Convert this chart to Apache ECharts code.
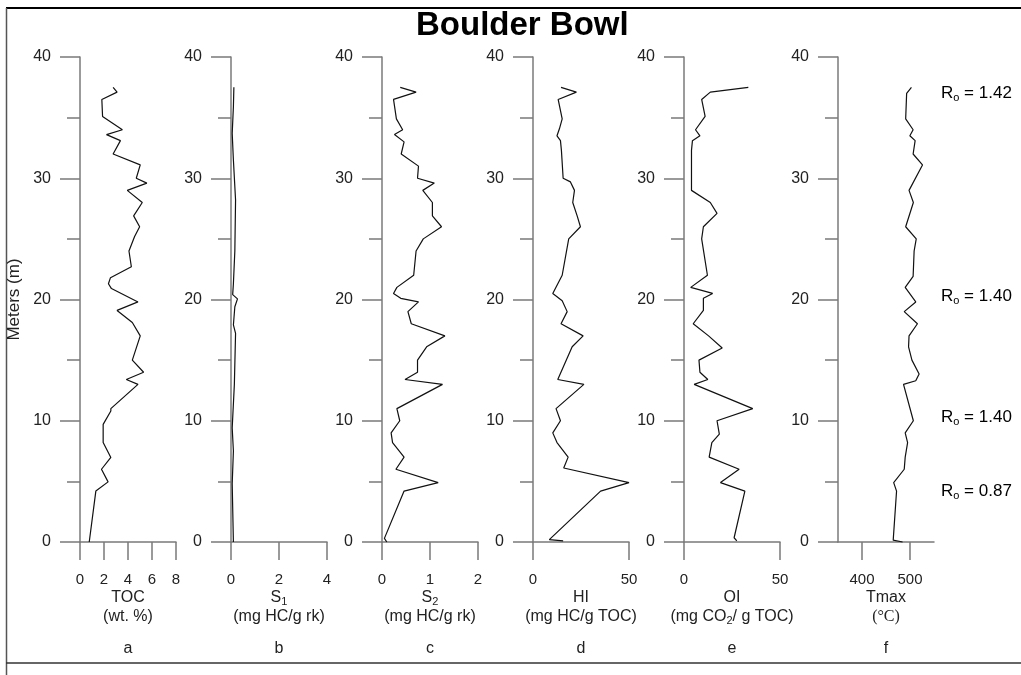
<!DOCTYPE html>
<html><head><meta charset="utf-8">
<script src="https://cdn.jsdelivr.net/npm/echarts@6/dist/echarts.min.js"></script>
<style>html,body{margin:0;padding:0;background:#fff}#c{width:1021px;height:675px}</style>
</head><body><div id="c"></div>
<script>
const titleText = 'Boulder Bowl';
// ---- data (depth in meters, value) ----
const tocDepth = [0, 4.2, 4.96, 6.0, 6.97, 8.2, 9.7, 10.8, 11.0, 13.0, 13.4, 14.0, 15.0, 17.0, 18.1, 19.1, 19.8, 20.9, 21.3, 21.8, 22.7, 24.0, 25.2, 26.0, 26.9, 28.0, 29.0, 29.6, 30.0, 31.1, 32.0, 33.1, 33.6, 34.0, 35.1, 36.5, 37.1, 37.5];
const tocValue = [0.77, 1.32, 2.34, 1.79, 2.57, 1.93, 1.93, 2.57, 2.57, 4.83, 3.86, 5.30, 4.36, 5.02, 4.36, 3.09, 4.83, 2.62, 2.37, 2.54, 4.28, 4.08, 4.55, 4.97, 4.47, 5.19, 3.94, 5.57, 4.69, 5.02, 2.76, 3.37, 2.21, 3.53, 1.88, 1.82, 3.09, 2.76];

const s1Depth = [0, 4.8, 7.5, 9.4, 13.0, 17.2, 17.9, 19.4, 20.05, 20.4, 21.3, 24.0, 28.2, 31.5, 33.7, 35.9, 37.5];
const s1Value = [0.10, 0.05, 0.10, 0.05, 0.14, 0.19, 0.10, 0.16, 0.27, 0.07, 0.10, 0.16, 0.19, 0.10, 0.05, 0.10, 0.12];

const s2Depth = [0, 0.3, 4.2, 4.9, 6.0, 7.0, 8.2, 9.0, 10.0, 11.0, 13.0, 13.4, 14.0, 15.0, 16.1, 17.0, 18.0, 19.0, 19.8, 20.1, 20.5, 21.0, 22.0, 24.0, 25.0, 26.0, 26.9, 28.0, 29.0, 29.6, 30.0, 31.0, 32.0, 33.0, 33.6, 34.0, 34.9, 36.5, 37.1, 37.5];
const s2Value = [0.10, 0.05, 0.46, 1.17, 0.29, 0.46, 0.22, 0.19, 0.37, 0.31, 1.26, 0.48, 0.74, 0.74, 0.93, 1.31, 0.61, 0.54, 0.76, 0.39, 0.24, 0.31, 0.66, 0.71, 0.86, 1.24, 1.05, 1.05, 0.85, 1.09, 0.74, 0.76, 0.40, 0.46, 0.26, 0.43, 0.30, 0.24, 0.71, 0.38];

const hiDepth = [0.1, 0.2, 4.2, 4.9, 6.1, 7.0, 8.2, 9.0, 10.0, 11.0, 13.0, 13.4, 16.1, 17.0, 18.0, 19.0, 19.9, 20.5, 22.0, 25.0, 26.0, 26.9, 28.0, 29.0, 29.7, 30.0, 32.3, 33.1, 33.5, 34.1, 34.9, 36.5, 37.1, 37.5];
const hiValue = [15.7, 8.5, 35.2, 50.0, 16.0, 18.3, 12.5, 10.3, 14.3, 12.0, 26.5, 12.9, 20.4, 26.1, 14.6, 17.8, 15.2, 10.3, 15.2, 18.6, 24.7, 23.0, 20.7, 21.6, 19.5, 15.7, 14.8, 14.3, 12.5, 13.8, 15.2, 13.1, 22.6, 14.6];

const oiDepth = [0.1, 0.35, 4.2, 4.9, 6.0, 7.0, 8.2, 8.9, 10.0, 11.0, 13.0, 13.4, 14.0, 15.0, 16.0, 17.0, 18.0, 19.1, 20.1, 20.5, 21.0, 22.0, 25.0, 26.0, 27.1, 28.0, 29.0, 32.3, 33.1, 33.5, 34.0, 35.1, 36.5, 37.1, 37.5];
const oiValue = [27.5, 26.1, 31.7, 19.0, 28.7, 13.1, 14.5, 18.4, 17.2, 35.8, 5.3, 12.4, 8.3, 7.8, 19.9, 12.8, 4.8, 10.1, 10.1, 14.9, 3.5, 12.2, 9.2, 10.1, 17.2, 13.7, 3.9, 3.9, 4.4, 8.3, 6.0, 11.0, 9.2, 13.7, 33.5];

const tmaxDepth = [0, 0.15, 4.2, 4.9, 6.0, 7.0, 8.2, 9.0, 10.0, 13.0, 13.3, 13.86, 15.0, 16.1, 17.0, 18.0, 19.0, 19.8, 21.0, 21.9, 24.0, 25.0, 26.0, 28.0, 29.0, 31.1, 32.0, 33.1, 33.5, 34.0, 34.9, 37.0, 37.5];
const tmaxValue = [484.5, 465, 472, 466, 488, 490, 495, 490, 507, 486.5, 512, 519, 504, 497, 498, 515.5, 488, 512, 490, 506.5, 508.6, 513, 491, 507, 498, 526, 506.5, 510.7, 499.7, 506.5, 491, 493, 503];

// Vitrinite reflectance annotations
const roDepth = [37.0, 20.3, 10.3, 4.2];
const roValue = ['1.42', '1.40', '1.40', '0.87'];

// axis tick labels
const depthMin = 0, depthMax = 40, depthStep = 10;
const xMins = [0, 0, 0, 0, 0, 350];
const xMaxs = [8, 4, 2, 50, 50, 550];
const xSteps = [2, 2, 1, 50, 50, 100];
const tmaxTicks = [400, 500];
const xNames = [
  '{n|TOC}\n{n|(wt. %)}\n{l|a}',
  '{n|S}{s|1}\n{n|(mg HC/g rk)}\n{l|b}',
  '{n|S}{s|2}\n{n|(mg HC/g rk)}\n{l|c}',
  '{n|HI}\n{n|(mg HC/g TOC)}\n{l|d}',
  '{n|OI}\n{n|(mg CO}{s|2}{n|/ g TOC)}\n{l|e}',
  '{n|Tmax}\n{serif|(°C)}\n{l|f}'
];

const seriesData = [
  [tocDepth, tocValue], [s1Depth, s1Value], [s2Depth, s2Value],
  [hiDepth, hiValue], [oiDepth, oiValue], [tmaxDepth, tmaxValue]
];

// ---- layout ----
const gridLefts = [80, 231, 382, 533, 684, 838];
const gridWidth = 96;
const gridTop = 57, gridHeight = 485;
const axisColor = '#7a7a7a';
const font = 'Liberation Sans, Arial, sans-serif';

const rich = {
  n: { fontSize: 16, lineHeight: 19, color: '#222', fontFamily: font },
  s: { fontSize: 11, color: '#222', fontFamily: font, verticalAlign: 'bottom', padding: [4, 0, 0, 0] },
  l: { fontSize: 16, lineHeight: 45, color: '#222', fontFamily: font },
  serif: { fontSize: 16, lineHeight: 19, color: '#222', fontFamily: 'Liberation Serif, Times New Roman, serif' }
};

const grids = [], xAxes = [], yAxes = [], series = [];
for (let i = 0; i < 6; i++) {
  grids.push({ left: gridLefts[i], top: gridTop, width: gridWidth, height: gridHeight, containLabel: false, outerBoundsMode: 'none' });
  const xa = {
    type: 'value', gridIndex: i, position: 'bottom',
    min: xMins[i], max: xMaxs[i],
    axisLine: { show: true, onZero: false, lineStyle: { color: axisColor, width: 1.5 } },
    axisTick: { show: true, inside: false, length: 18, lineStyle: { color: axisColor, width: 1.5 } },
    axisLabel: { fontSize: 15, color: '#222', margin: 30, fontFamily: font, showMinLabel: true, showMaxLabel: true },
    splitLine: { show: false },
    name: xNames[i], nameLocation: 'middle', nameGap: 46, nameMoveOverlap: false,
    nameTextStyle: { rich: rich }
  };
  if (i === 5) {
    xa.axisTick.customValues = tmaxTicks;
    xa.axisLabel.customValues = tmaxTicks;
  } else {
    xa.interval = xSteps[i];
  }
  xAxes.push(xa);
  const ya = {
    type: 'value', gridIndex: i, min: depthMin, max: depthMax, interval: depthStep,
    axisLine: { show: true, onZero: false, lineStyle: { color: axisColor, width: 1.5 } },
    axisTick: { show: true, length: 20, lineStyle: { color: axisColor, width: 1.5 } },
    minorTick: { show: true, splitNumber: 2, length: 13, lineStyle: { color: axisColor, width: 1.5 } },
    axisLabel: { fontSize: 16, color: '#222', margin: 29, fontFamily: font },
    splitLine: { show: false }, minorSplitLine: { show: false }
  };
  if (i === 0) {
    ya.name = 'Meters (m)';
    ya.nameLocation = 'middle';
    ya.nameGap = 57;
    ya.nameMoveOverlap = false;
    ya.nameTextStyle = { fontSize: 17, color: '#222', fontFamily: font };
  }
  yAxes.push(ya);
  const d = seriesData[i];
  series.push({
    type: 'line', xAxisIndex: i, yAxisIndex: i,
    data: d[0].map((dep, k) => [d[1][k], dep]),
    showSymbol: false, symbol: 'none', silent: true, animation: false,
    lineStyle: { color: '#111', width: 1.2 }, clip: false
  });
}

const chart = echarts.init(document.getElementById('c'), null, { renderer: 'canvas' });
chart.setOption({
  animation: false,
  backgroundColor: '#fff',
  title: { text: titleText, left: 411, top: 4, textStyle: { fontSize: 33, fontWeight: 'bold', color: '#000', fontFamily: font } },
  grid: grids, xAxis: xAxes, yAxis: yAxes, series: series
});

// frame lines and Ro annotations
const graphics = [
  { type: 'line', shape: { x1: 6, y1: 8, x2: 1021, y2: 8 }, style: { stroke: '#000', lineWidth: 2 } },
  { type: 'line', shape: { x1: 6.5, y1: 8, x2: 6.5, y2: 675 }, style: { stroke: '#555', lineWidth: 1.5 } },
  { type: 'line', shape: { x1: 6, y1: 663, x2: 1021, y2: 663 }, style: { stroke: '#333', lineWidth: 1.5 } }
];
roDepth.forEach((dep, k) => {
  const y = chart.convertToPixel({ yAxisIndex: 5 }, dep);
  graphics.push({
    type: 'text', x: 941, y: y,
    style: {
      text: '{r|R}{o|o}{r| = ' + roValue[k] + '}',
      verticalAlign: 'middle', align: 'left',
      rich: {
        r: { fontSize: 17, lineHeight: 20, color: '#222', fontFamily: font },
        o: { fontSize: 11, color: '#222', fontFamily: font, verticalAlign: 'bottom', padding: [10, 0, 0, 0] }
      }
    }
  });
});
chart.setOption({ graphic: graphics });
</script></body></html>
